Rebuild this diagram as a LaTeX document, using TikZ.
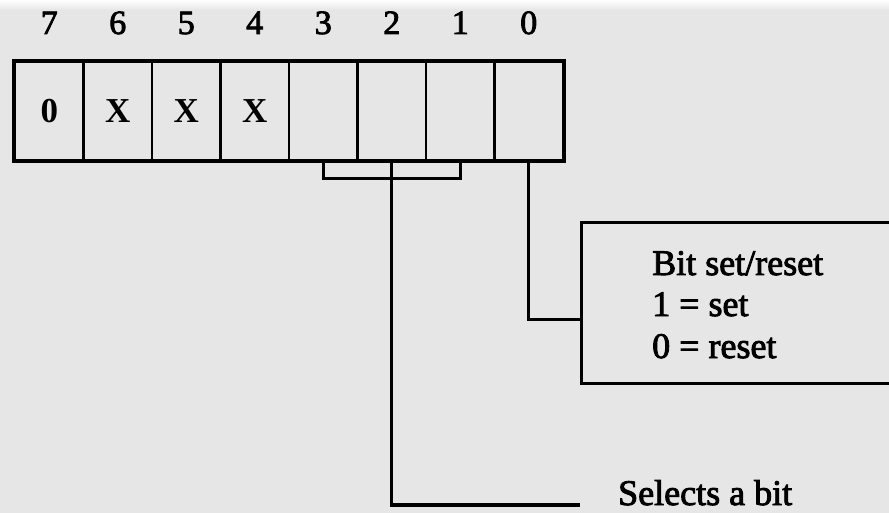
\documentclass[tikz,border=0pt]{standalone}
\usepackage{fontspec}
\setmainfont{Liberation Serif}
\newfontfamily\heavyserif[FakeBold=2.5]{Liberation Serif}
\usetikzlibrary{calc}
\definecolor{paper}{RGB}{230,230,230}
\begin{document}
\begin{tikzpicture}[x=1pt,y=-1pt,
  rule/.style={line width=3pt},
  cell/.style={draw,line width=2.6pt,minimum width=68.5pt,minimum height=98pt,inner sep=0pt,
    font=\fontsize{35}{35}\selectfont\bfseries},
  bitno/.style={anchor=base,font=\fontsize{34}{34}\selectfont\heavyserif},
  label/.style={anchor=base west,inner sep=0pt,font=\fontsize{36}{42}\selectfont\heavyserif},
  wire/.style={line width=3.2pt}]
  % page
  \fill[paper] (0,0) rectangle (889,513);
  \shade[top color=white,bottom color=paper] (0,0) rectangle (889,10);
  \useasboundingbox (0,0) rectangle (889,513);
  \clip (0,0) rectangle (889,513);

  % control word register, bits 7..0
  \foreach \b/\t [count=\i from 0] in {7/0,6/X,5/X,4/X,3/,2/,1/,0/} {
    \node[cell] (c\b) at ({49.25+68.5*\i},111) {\t};
    \node[bitno] (n\b) at ({49.25+68.5*\i},34) {\b};
  }
  \draw[rule] (c7.north west) rectangle (c0.south east);

  % set/reset description box
  \node[draw,rule,minimum width=330pt,minimum height=160pt,inner sep=0pt] (box) at (746,303) {};
  \node[label] (t1) at (652,275) {Bit set/reset};
  \node[label] (t2) at (652,316) {1 = set};
  \node[label] (t3) at (652,358) {0 = reset};
  \coordinate (boxin) at ($(box.north west)!0.6!(box.south west)$);

  % bit-select label
  \node[label] (sel) at (618,505) {Selects a bit};
  \coordinate (selend) at (580,505);

  % bracket over bits 3..1 with its stem
  \draw[wire] (c3.south) -- ++(0,17) -| (c1.south);
  \draw[wire] (c2.south) |- (selend);
  % bit 0 to the set/reset box
  \draw[wire] (c0.south) |- (boxin);
\end{tikzpicture}
\end{document}
